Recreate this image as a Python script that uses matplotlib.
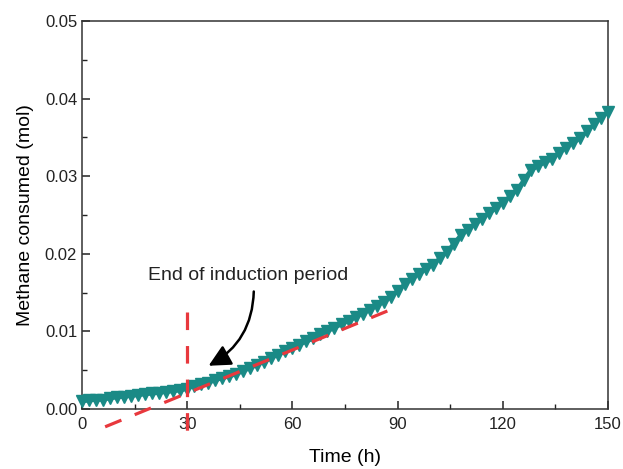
import matplotlib
matplotlib.use("Agg")
import matplotlib.pyplot as plt
from matplotlib.ticker import MultipleLocator
from matplotlib.patches import FancyArrowPatch

plt.rcParams['font.family'] = ['Liberation Sans', 'DejaVu Sans']

time_h = [0, 2, 4, 6, 8, 10, 12, 14, 16, 18, 20, 22, 24, 26, 28, 30,
          32, 34, 36, 38, 40, 42, 44, 46, 48, 50, 52, 54, 56, 58, 60,
          62, 64, 66, 68, 70, 72, 74, 76, 78, 80, 82, 84, 86, 88, 90,
          92, 94, 96, 98, 100, 102, 104, 106, 108, 110, 112, 114, 116, 118, 120,
          122, 124, 126, 128, 130, 132, 134, 136, 138, 140, 142, 144, 146, 148, 150]
methane_mol = [0.0010, 0.0011, 0.0012, 0.0012, 0.0014, 0.0015, 0.0016, 0.0017, 0.0018, 0.0019,
               0.0020, 0.0021, 0.0022, 0.0023, 0.0024, 0.0026,
               0.0030, 0.0032, 0.0034, 0.0037, 0.0040, 0.0042, 0.0045, 0.0049, 0.0053, 0.0057,
               0.0061, 0.0066, 0.0070, 0.0075, 0.0079,
               0.0083, 0.0087, 0.0091, 0.0096, 0.0100, 0.0105, 0.0109, 0.0114, 0.0118, 0.0123,
               0.0128, 0.0133, 0.0138, 0.0144, 0.0152,
               0.0161, 0.0168, 0.0174, 0.0180, 0.0186, 0.0194, 0.0202, 0.0213, 0.0224, 0.0231,
               0.0238, 0.0245, 0.0252, 0.0259, 0.0266,
               0.0274, 0.0282, 0.0295, 0.0308, 0.0313, 0.0318, 0.0322, 0.0330, 0.0337, 0.0343,
               0.0349, 0.0358, 0.0367, 0.0375, 0.0383]

# guide lines (red dashed)
vline_x = [30, 30]
vline_y = [0.0125, -0.0043]
slope_x = [6.6, 88]
slope_y = [-0.0023, 0.0128]

annot_text = "End of induction period"

teal = '#1a8a86'
red = '#e8383d'

fig = plt.figure(figsize=(6.23, 4.69), dpi=100)
ax = fig.add_axes([0.1316, 0.128, 0.8444, 0.827])

ax.plot(time_h, methane_mol, color=teal, lw=3, marker='v', ms=9,
        markerfacecolor=teal, markeredgecolor=teal, zorder=3, clip_on=False)

ax.plot(vline_x, vline_y, color=red, lw=2.3, dashes=(5.5, 5), clip_on=False, zorder=4)
ax.plot(slope_x, slope_y, color=red, lw=2.3, dashes=(5.5, 4.5), clip_on=False, zorder=4)

ax.text(47.5, 0.0161, annot_text, fontsize=14, ha='center', va='bottom', color='#222222')
arrow = FancyArrowPatch((49.0, 0.0155), (35.4, 0.0054),
                        connectionstyle='arc3,rad=-0.3',
                        arrowstyle='-|>,head_length=1.1,head_width=0.55',
                        color='black', lw=1.8, mutation_scale=12, zorder=5)
ax.add_patch(arrow)

ax.set_xlim(0, 150)
ax.set_ylim(0, 0.05)
ax.xaxis.set_major_locator(MultipleLocator(30))
ax.xaxis.set_minor_locator(MultipleLocator(15))
ax.yaxis.set_minor_locator(MultipleLocator(0.005))
ax.set_yticks([0, 0.01, 0.02, 0.03, 0.04, 0.05])
ax.set_yticklabels(['0.00', '0.01', '0.02', '0.03', '0.04', '0.05'])

ax.tick_params(which='both', direction='in', top=False, right=False,
               labelsize=12, colors='#222222')
ax.tick_params(which='major', length=6, width=1.1)
ax.tick_params(which='minor', length=3.5, width=1.0)
ax.tick_params(axis='x', which='major', pad=6)
for s in ax.spines.values():
    s.set_linewidth(1.1)
    s.set_color('#333333')

ax.set_xlabel('Time (h)', fontsize=14, labelpad=12)
ax.set_ylabel('Methane consumed (mol)', fontsize=14, labelpad=8)

fig.savefig('out.png', dpi=100)
